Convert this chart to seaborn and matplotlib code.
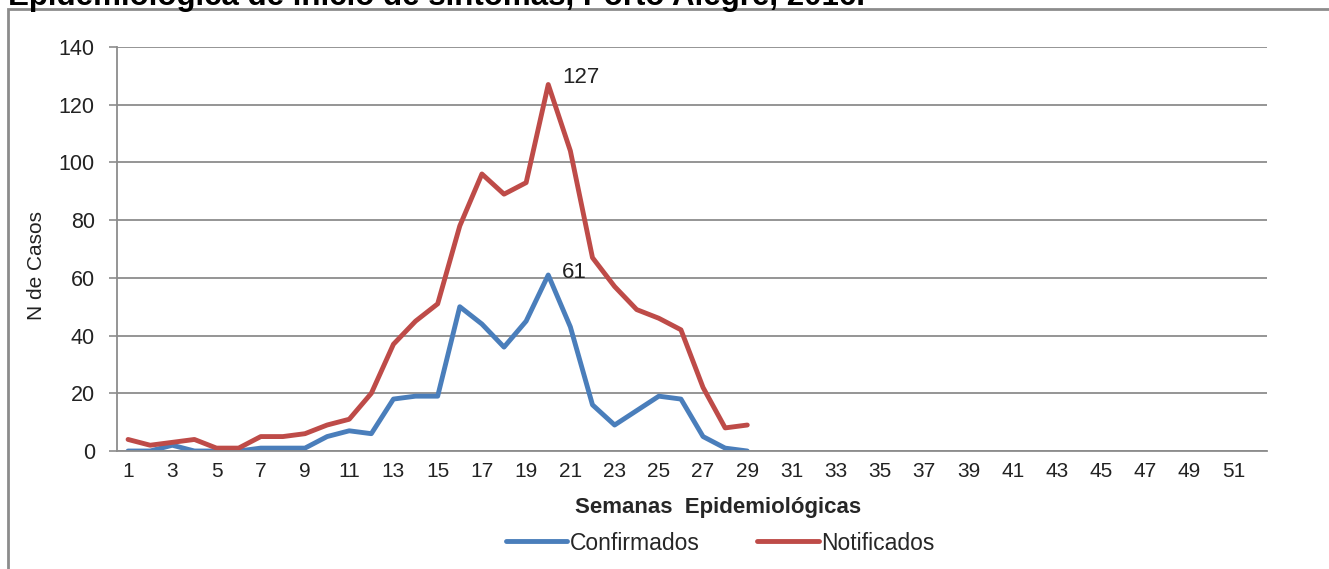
import matplotlib
matplotlib.use('Agg')
from matplotlib import pyplot as plt
from matplotlib.patches import Rectangle
import numpy as np
import pandas as pd
import seaborn as sns

# Dados
semanas = list(range(1, 30))
confirmados = [0, 0, 2, 0, 0, 0, 1, 1, 1, 5, 7, 6, 18, 19, 19, 50, 44, 36, 45, 61,
               43, 16, 9, 14, 19, 18, 5, 1, 0]
notificados = [4, 2, 3, 4, 1, 1, 5, 5, 6, 9, 11, 20, 37, 45, 51, 78, 96, 89, 93, 127,
               104, 67, 57, 49, 46, 42, 22, 8, 9]
rotulos_x = [str(i) for i in range(1, 53, 2)]
titulo = 'Epidemiológica de início de sintomas, Porto Alegre, 2016.'

cores = {'Confirmados': '#4A7EBB', 'Notificados': '#BE4B48'}

df = pd.DataFrame({
    'semana': semanas * 2,
    'casos': confirmados + notificados,
    'serie': ['Confirmados'] * len(semanas) + ['Notificados'] * len(semanas),
})

sns.set_theme(style='white')
plt.rcParams['font.family'] = ['Liberation Sans', 'DejaVu Sans']

fig = plt.figure(figsize=(13.29, 5.69), dpi=100)
ax = fig.add_axes([117 / 1329, 1 - 451 / 569, 1150 / 1329, 404 / 569])

sns.lineplot(data=df, x='semana', y='casos', hue='serie', palette=cores,
             linewidth=3.5, ax=ax, legend=True)

ax.set_xlim(0.5, 52.5)
ax.set_ylim(0, 140)
ax.set_yticks(range(0, 141, 20))
ax.set_xticks(range(1, 53, 2))
ax.set_xticklabels(rotulos_x)
ax.set_xticks(np.arange(0.5, 53, 1), minor=True)
ax.tick_params(axis='x', which='major', length=0, pad=8, labelsize=15, colors='#222222')
ax.tick_params(axis='x', which='minor', length=6, width=1.2, color='#8c8c8c', direction='out')
ax.tick_params(axis='y', length=6, width=1.2, color='#8c8c8c', pad=10, labelsize=15.5,
               labelcolor='#222222', direction='out', left=True)
ax.grid(axis='y', color='#8c8c8c', linewidth=1.3)
ax.set_axisbelow(True)
for s in ['top', 'right']:
    ax.spines[s].set_visible(False)
for s in ['left', 'bottom']:
    ax.spines[s].set_color('#8c8c8c')
    ax.spines[s].set_linewidth(1.3)

ax.set_xlabel('Semanas  Epidemiológicas', fontsize=16, fontweight='bold', va='center')
ax.xaxis.set_label_coords((718 - 117) / 1150, (451 - 507) / 404)
ax.set_ylabel('N de Casos', fontsize=15, color='#222222', va='center')
ax.yaxis.set_label_coords((36 - 117) / 1150, (451 - 265) / 404)

# rótulos dos picos
i_pico = int(np.argmax(notificados))
ax.annotate(str(notificados[i_pico]), (semanas[i_pico], notificados[i_pico]),
            xytext=(10, 1), textcoords='offset points', fontsize=16, color='#222222')
i_pico = int(np.argmax(confirmados))
ax.annotate(str(confirmados[i_pico]), (semanas[i_pico], confirmados[i_pico]),
            xytext=(10, -2), textcoords='offset points', fontsize=16, color='#222222')

ax.legend(loc='center', bbox_to_anchor=((720 - 117) / 1150, (451 - 543) / 404), ncol=2,
          frameon=False, fontsize=16.5, handlelength=2.7, handletextpad=0.1,
          columnspacing=2.5, title=None)

# moldura e título cortado no topo
fig.patches.append(Rectangle((8 / 1329, -0.1), 1.2, 1 - 9 / 569 + 0.1,
                             transform=fig.transFigure, fill=False,
                             edgecolor='#8c8c8c', linewidth=2))
fig.text(8 / 1329, 1 - 5 / 569, titulo, fontsize=22.5, fontweight='bold',
         va='baseline', ha='left', color='black')

fig.savefig('out.png', dpi=100)
